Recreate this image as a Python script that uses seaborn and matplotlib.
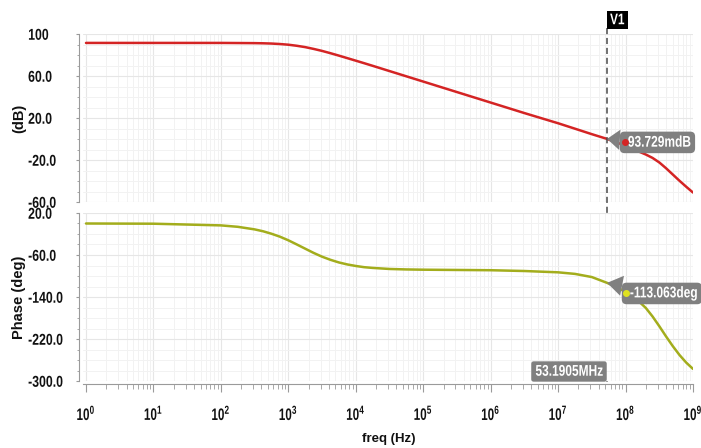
import numpy as np
import pandas as pd
import matplotlib
matplotlib.use("Agg")
import matplotlib.pyplot as plt
import matplotlib.transforms as mtransforms
from matplotlib.patheffects import AbstractPathEffect
from matplotlib.ticker import FixedLocator, LogLocator, MultipleLocator, NullFormatter
import seaborn as sns

# ---- AC sweep results -------------------------------------------------------
freq_hz = [1, 10, 100, 178, 316, 422, 562, 750, 1000, 1330, 1780, 2370,
           3160, 4220, 5620, 7500, 1e4, 1.33e4, 1.78e4, 3.16e4, 5.62e4,
           1e5, 3.16e5, 1e6, 3.16e6, 1e7, 1.78e7, 3.16e7, 5.31905e7,
           7.94e7, 1e8, 1.26e8, 1.58e8, 2e8, 2.51e8, 3.16e8, 3.98e8,
           5.01e8, 6.31e8, 7.94e8, 1e9]
gain_db = [91.5, 91.5, 91.5, 91.4, 91.3, 91.15, 90.9, 90.45, 89.8, 88.8,
           87.5, 85.8, 83.9, 81.7, 79.4, 77.0, 74.6, 72.2, 69.7, 64.7, 59.7,
           54.7, 44.7, 34.7, 24.7, 15.0, 9.8, 4.6, 0.093729,
           -4.0, -6.6, -9.3, -12.0, -14.8, -18.0, -22.3, -27.8,
           -33.8, -39.8, -45.5, -51.0]
phase_deg = [0.0, -0.4, -3.6, -6.3, -11.2, -14.8, -19.5, -25.1, -32.0, -39.8,
             -48.0, -56.0, -63.2, -69.2, -74.2, -78.0, -80.9, -83.2, -84.6,
             -86.6, -87.5, -88.0, -88.5, -89.0, -90.5, -93.0, -96.0, -102.0,
             -113.063, -123.0, -131.0, -139.0, -148.5, -161.0, -177.0, -195.5,
             -215.0, -233.5, -250.5, -265.0, -277.0]

# cursor V1
cursor_freq = 5.31905e7
cursor_gain = 0.093729
cursor_phase = -113.063
cursor_name = "V1"
cursor_freq_label = "53.1905MHz"
cursor_gain_label = "93.729mdB"
cursor_phase_label = "-113.063deg"

# axis ticks
gain_ticks = [100, 60, 20, -20, -60]
gain_tick_labels = ["100", "60.0", "20.0", "-20.0", "-60.0"]
phase_ticks = [20, -60, -140, -220, -300]
phase_tick_labels = ["20.0", "-60.0", "-140.0", "-220.0", "-300.0"]
decades = list(range(0, 10))

GAIN_COLOR = "#d42424"
PHASE_COLOR = "#a3ad1c"
BOX_GREY = "#808080"
AXIS_GREY = "#9a9a9a"
GRID_MAJOR = "#e6e6e6"
GRID_MINOR = "#f2f2f2"
TEXT = "#111111"


class Squeeze(AbstractPathEffect):
    """Rescale glyph outlines about an anchor so a regular face looks condensed."""

    def __init__(self, sx=0.82, sy=1.0, anchor="left"):
        super().__init__()
        self.sx = sx
        self.sy = sy
        self.anchor = anchor

    def draw_path(self, renderer, gc, tpath, affine, rgbFace=None):
        ext = tpath.get_extents()
        if self.anchor == "left":
            x0 = ext.x0
        elif self.anchor == "right":
            x0 = ext.x1
        else:
            x0 = 0.5 * (ext.x0 + ext.x1)
        y0 = 0.5 * (ext.y0 + ext.y1)
        t = mtransforms.Affine2D().translate(-x0, -y0).scale(self.sx, self.sy).translate(x0, y0)
        renderer.draw_path(gc, tpath, t + affine, rgbFace)


sns.set_theme(style="white")
plt.rcParams["font.family"] = ["Liberation Sans", "DejaVu Sans"]
plt.rcParams["mathtext.fontset"] = "custom"
plt.rcParams["mathtext.rm"] = "Liberation Sans"
plt.rcParams["mathtext.bf"] = "Liberation Sans:bold"

df = pd.DataFrame({"freq": freq_hz, "gain": gain_db, "phase": phase_deg})

W, H = 701, 448
PX = 0.72  # points per pixel at 100 dpi
fig = plt.figure(figsize=(W / 100, H / 100), dpi=100)
fig.patch.set_facecolor("white")


def px_box(left, right, top, bottom):
    return [left / W, 1 - bottom / H, (right - left) / W, (bottom - top) / H]


ax1 = fig.add_axes(px_box(83, 693, 34, 202))
ax2 = fig.add_axes(px_box(83, 693, 213, 381))

sns.lineplot(data=df, x="freq", y="gain", ax=ax1, color=GAIN_COLOR, linewidth=1.8)
sns.lineplot(data=df, x="freq", y="phase", ax=ax2, color=PHASE_COLOR, linewidth=1.8)

xmin = 10 ** -0.0445
xmax = 1e9
for ax, ticks, labels, step, lims in (
        (ax1, gain_ticks, gain_tick_labels, 10, (-60, 100)),
        (ax2, phase_ticks, phase_tick_labels, 20, (-300, 20))):
    ax.set_xscale("log")
    ax.set_xlim(xmin, xmax)
    ax.set_ylim(*lims)
    ax.set_facecolor("white")
    for side in ("top", "right", "bottom"):
        ax.spines[side].set_visible(False)
    ax.spines["left"].set_position(("outward", 4 * PX))
    ax.spines["left"].set_color(AXIS_GREY)
    ax.spines["left"].set_linewidth(0.8)
    ax.yaxis.set_major_locator(FixedLocator(ticks))
    ax.set_yticklabels(labels)
    ax.yaxis.set_minor_locator(MultipleLocator(step))
    ax.tick_params(axis="y", which="major", left=True, length=3 * PX, width=0.8,
                   color=AXIS_GREY, direction="out", pad=48 * PX,
                   labelsize=10.8, labelcolor=TEXT)
    ax.tick_params(axis="y", which="minor", left=True, length=2 * PX, width=0.6,
                   color=AXIS_GREY, direction="out")
    for lab in ax.get_yticklabels():
        lab.set_fontweight("bold")
        lab.set_horizontalalignment("left")
        lab.set_path_effects([Squeeze(0.82, 1.05, "left")])
    ax.xaxis.set_major_locator(FixedLocator([10.0 ** d for d in decades]))
    ax.xaxis.set_minor_locator(LogLocator(base=10, subs=np.arange(2, 10), numticks=30))
    ax.xaxis.set_minor_formatter(NullFormatter())
    ax.grid(True, which="major", color=GRID_MAJOR, linewidth=0.8)
    ax.grid(True, which="minor", color=GRID_MINOR, linewidth=0.7)
    ax.set_axisbelow(True)
    ax.set_xlabel("")

ax1.tick_params(axis="x", which="both", bottom=False, labelbottom=False)

ax2.spines["bottom"].set_visible(True)
ax2.spines["bottom"].set_position(("outward", 3 * PX))
ax2.spines["bottom"].set_color(AXIS_GREY)
ax2.spines["bottom"].set_linewidth(0.8)
ax2.set_xticklabels([r"$\mathbf{10^{%d}}$" % d for d in decades])
ax2.tick_params(axis="x", which="major", bottom=True, length=8 * PX, width=0.8,
                color=AXIS_GREY, direction="out", pad=8, labelsize=12,
                labelcolor=TEXT)
ax2.tick_params(axis="x", which="minor", bottom=True, length=5 * PX, width=0.6,
                color=AXIS_GREY, direction="out")
for lab in ax2.get_xticklabels():
    lab.set_path_effects([Squeeze(0.7, 1.0, "center")])

ax1.set_ylabel("(dB)", fontsize=10.5, fontweight="bold", color=TEXT)
ax2.set_ylabel("Phase (deg)", fontsize=10.5, fontweight="bold", color=TEXT)
ax1.yaxis.set_label_coords((26 - 83) / 610, 0.5)
ax2.yaxis.set_label_coords((26 - 83) / 610, 0.5)
ax2.set_xlabel("freq (Hz)", fontsize=9.5, fontweight="bold", color=TEXT)
ax2.xaxis.set_label_coords((389 - 83) / 610, (381 - 439) / 168)
ax2.xaxis.label.set_verticalalignment("center")

# ---- cursor V1 ---------------------------------------------------------------
cur_tr = mtransforms.blended_transform_factory(ax1.transData, fig.transFigure)
ax1.plot([cursor_freq, cursor_freq], [1 - 28 / H, 1 - 384 / H], transform=cur_tr,
         color="#4a4a4a", linewidth=1.1, linestyle=(0, (4, 2.5)), clip_on=False, zorder=5)

v1 = ax1.annotate(cursor_name, xy=(cursor_freq, 1), xycoords=("data", "axes fraction"),
                  xytext=(3 * PX, 14 * PX), textcoords="offset points", ha="left", va="center",
                  fontsize=8.5, fontweight="bold", color="white", zorder=7,
                  bbox=dict(boxstyle="square,pad=0.25", fc="black", ec="none"),
                  annotation_clip=False)
v1.set_path_effects([Squeeze(1.0, 1.3, "left")])

CALLOUT_SIZE = 8.6


def value_callout(ax, yval, text, color, dx, dy, dot_dx, dot_dy):
    ann = ax.annotate(" " + text, xy=(cursor_freq, yval), xytext=(dx * PX, dy * PX),
                      textcoords="offset points", ha="left", va="center",
                      fontsize=CALLOUT_SIZE, fontweight="bold", color="white", zorder=8,
                      bbox=dict(boxstyle="round,pad=0.4,rounding_size=0.4", fc=BOX_GREY, ec="none"),
                      arrowprops=dict(arrowstyle="wedge,tail_width=1.7,shrink_factor=0.5",
                                      fc=BOX_GREY, ec="none", shrinkA=0, shrinkB=0),
                      annotation_clip=False)
    ann.set_path_effects([Squeeze(1.0, 1.3, "left")])
    dot_tr = mtransforms.offset_copy(ax.transData, fig=fig, x=dot_dx * PX,
                                     y=dot_dy * PX, units="points")
    ax.plot([cursor_freq], [yval], marker="o", markersize=4.0, color=color,
            transform=dot_tr, zorder=9, clip_on=False, linestyle="none")


value_callout(ax1, cursor_gain, cursor_gain_label, GAIN_COLOR, 17.5, -3.5, 18, -3.4)
value_callout(ax2, cursor_phase, cursor_phase_label, "#dfe21f", 19.5, -10.6, 19, -10)

fq = ax2.annotate(cursor_freq_label, xy=(cursor_freq, 0), xycoords=("data", "axes fraction"),
                  xytext=(-4.5 * PX, 9.5 * PX), textcoords="offset points",
                  ha="right", va="center", fontsize=CALLOUT_SIZE, fontweight="bold", color="white",
                  bbox=dict(boxstyle="round,pad=0.35,rounding_size=0.2", fc=BOX_GREY, ec="none"),
                  zorder=8, annotation_clip=False)
fq.set_path_effects([Squeeze(1.0, 1.3, "right")])

fig.savefig("out.png", dpi=100, facecolor="white")
